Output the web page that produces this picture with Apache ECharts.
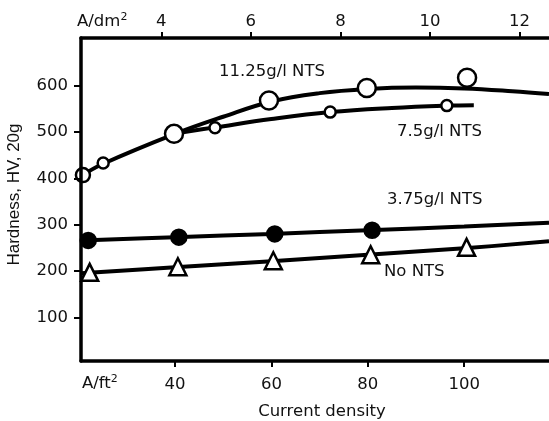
<!DOCTYPE html>
<html>
<head>
<meta charset="utf-8">
<script src="https://cdn.jsdelivr.net/npm/echarts@6/dist/echarts.min.js"></script>
<style>
  html, body { margin: 0; padding: 0; background: #fff; }
  #chart { width: 549px; height: 421px; }
</style>
</head>
<body>
<div id="chart"></div>
<script>
// A/ft2 on the bottom, A/dm2 on top (1 A/dm2 = 9.29 A/ft2)
var FT_PER_DM = 9.29;
var xMin = 20.5, xMax = 117.6;
var yMin = 5.6, yMax = 703;

var ftTicks = [40, 60, 80, 100];
var dmTicks = [4, 6, 8, 10, 12];
var yTicks = [100, 200, 300, 400, 500, 600];

// fitted curves
var curve1125 = [[20.5, 405], [25, 431], [40, 496], [50, 533], [60, 566], [70, 584], [80, 593], [90, 596], [100, 594], [110, 588], [117.6, 582]];
var curve75 = [[40, 497], [48.3, 510], [60, 528], [72.2, 543], [85, 552], [96.4, 557], [102, 558]];
var curve375 = [[20.5, 266], [40, 273], [60, 280], [80, 288], [100, 296], [117.6, 304]];
var curveNo = [[20.5, 195], [40, 208], [60, 221], [80, 235], [100, 249], [117.6, 264]];

// measured points
var pts1125 = [[20.9, 407], [39.8, 496], [59.5, 568], [79.8, 595], [100.6, 617]];
var pts75 = [[25.1, 433], [48.3, 509], [72.2, 543], [96.4, 557]];
var pts375 = [[22, 266], [40.8, 273], [60.7, 280], [80.9, 288]];
var ptsNo = [[22.3, 197], [40.6, 209], [60.4, 222], [80.6, 235], [100.5, 251]];

var FONT = '"DejaVu Sans", Verdana, sans-serif';
var FONT_V = '"Liberation Sans", Arial, Helvetica, sans-serif';
var txt = { color: '#111', fontFamily: FONT, fontSize: 16.5 };
var supRich = { s: { fontSize: 11, verticalAlign: 'top', padding: [0, 0, 8, 0], fontFamily: FONT } };

var chart = echarts.init(document.getElementById('chart'));

function lineSeries(data) {
    return {
        type: 'line', data: data, smooth: 0.4, showSymbol: false, z: 2,
        lineStyle: { color: '#000', width: 4 }
    };
}
function markSeries(data, symbol, size, fill) {
    return {
        type: 'scatter', data: data, symbol: symbol, symbolSize: size, z: 3,
        itemStyle: { color: fill, borderColor: '#000', borderWidth: 2.5, opacity: 1 }
    };
}
function label(x, y, s) {
    return { type: 'text', left: x, top: y, style: { text: s, font: '16.5px ' + FONT, fill: '#111', rich: supRich } };
}

var first = pts1125.map(function (p, i) {
    return i === 0 ? { value: p, symbolSize: 14 } : p;
});

var option = {
    animation: false,
    backgroundColor: '#fff',
    grid: { left: 81, right: 0, top: 38, bottom: 60, outerBoundsMode: 'none', containLabel: false },
    xAxis: [
        {
            type: 'value', position: 'bottom', min: xMin, max: xMax, z: 10,
            axisLine: { lineStyle: { color: '#000', width: 3.5 } },
            axisTick: { customValues: ftTicks, length: 6, lineStyle: { color: '#000', width: 2 } },
            axisLabel: Object.assign({ customValues: ftTicks, margin: 15 }, txt),
            splitLine: { show: false },
            name: 'Current density', nameLocation: 'middle', nameGap: 42,
            nameTextStyle: Object.assign({ padding: [0, 0, 0, 14] }, txt)
        },
        {
            type: 'value', position: 'top', min: xMin / FT_PER_DM, max: xMax / FT_PER_DM, z: 10,
            axisLine: { lineStyle: { color: '#000', width: 3.5 } },
            axisTick: { customValues: dmTicks, length: 6, lineStyle: { color: '#000', width: 2 } },
            axisLabel: Object.assign({ customValues: dmTicks, margin: 8 }, txt),
            splitLine: { show: false }
        }
    ],
    yAxis: {
        type: 'value', min: yMin, max: yMax, z: 10,
        axisLine: { show: true, lineStyle: { color: '#000', width: 3.5 } },
        axisTick: { show: true, customValues: yTicks, length: 7, lineStyle: { color: '#000', width: 2 } },
        axisLabel: Object.assign({ customValues: yTicks, margin: 13 }, txt),
        splitLine: { show: false },
        name: 'Hardness, HV, 20g', nameLocation: 'middle', nameGap: 58,
        nameTextStyle: { color: '#111', fontFamily: FONT_V, fontSize: 17, padding: [0, 0, 0, 10] }
    },
    graphic: [
        label(77, 12, 'A/dm{s|2}'),
        label(82, 374, 'A/ft{s|2}'),
        label(219, 63, '11.25g/l NTS'),
        label(397, 123, '7.5g/l NTS'),
        label(387, 191, '3.75g/l NTS'),
        label(384, 263, 'No NTS')
    ],
    series: [
        lineSeries(curve1125),
        lineSeries(curve75),
        lineSeries(curve375),
        lineSeries(curveNo),
        markSeries(first, 'circle', 18, '#fff'),
        markSeries(pts75, 'circle', 11, '#fff'),
        markSeries(pts375, 'circle', 15, '#000'),
        markSeries(ptsNo, 'triangle', 17, '#fff')
    ]
};
chart.setOption(option);
</script>
</body>
</html>
